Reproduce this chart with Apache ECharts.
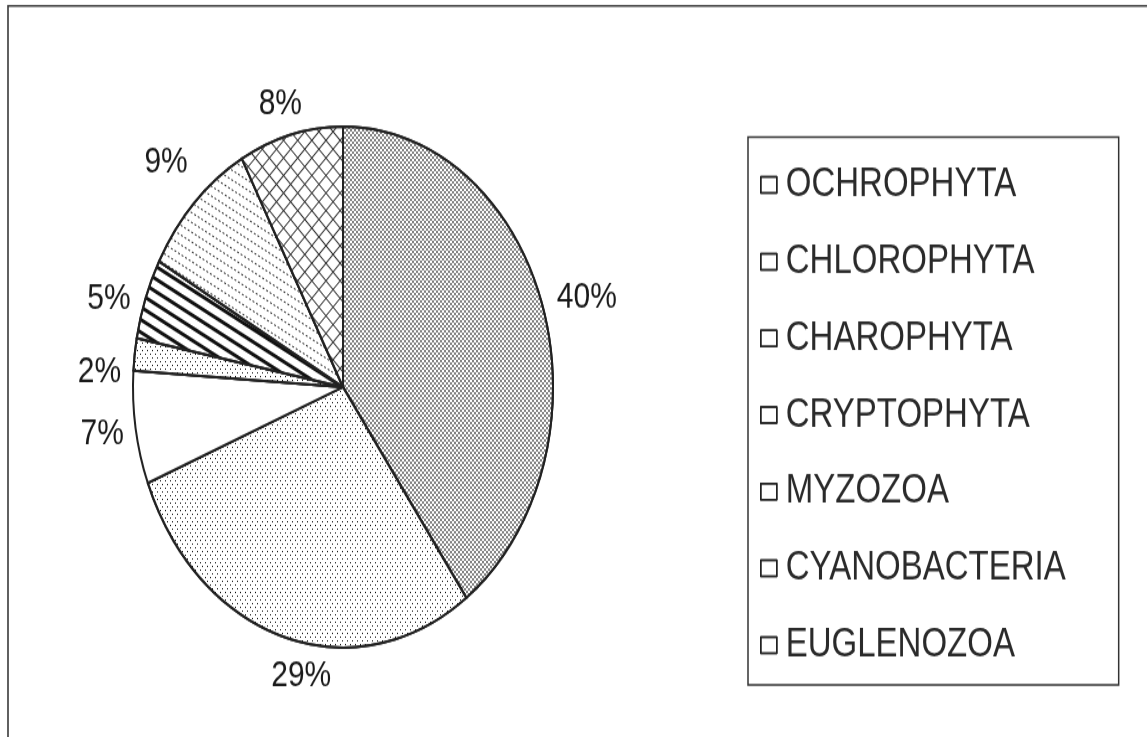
<!DOCTYPE html>
<html>
<head>
<meta charset="utf-8">
<script src="https://cdn.jsdelivr.net/npm/echarts@6/dist/echarts.min.js"></script>
<style>
html, body { margin: 0; padding: 0; background: #fff; overflow: hidden; }
#wrap { width: 1147px; height: 737px; overflow: hidden; position: relative; background: #fff; }
#main { width: 1147px; height: 594px; transform: scaleY(1.24074); transform-origin: 0 0; }
</style>
</head>
<body>
<div id="wrap"><div id="main"></div></div>
<script>
// ---- data ----
const categories = ['OCHROPHYTA', 'CHLOROPHYTA', 'CHAROPHYTA', 'CRYPTOPHYTA', 'MYZOZOA', 'CYANOBACTERIA', 'EUGLENOZOA'];
const percentages = [40, 29, 7, 2, 5, 9, 8];

// ---- styles ----
const FONT = '"Liberation Sans", Arial, sans-serif';
// small label nudges (px) imitating the original label placement
const labelNudge = [[3, 6], [26, 0], [0, 0], [-2, 18], [-3, 12], [-3, -7], [-3, 4]];
const gridRows = [[10, 0], [1, 9], [1, 9], [1, 9], [1, 9], [1, 9], [1, 9], [1, 9], [1, 9], [1, 9]];
const slicePatterns = [
  { symbol: 'rect', dashArrayX: [[2, 2], [0, 2, 2, 0]], dashArrayY: [2, 0], color: '#3c3c3c', symbolSize: 0.85, rotation: 0 },
  { symbol: 'rect', dashArrayX: [[1, 4], [0, 2, 1, 2]], dashArrayY: [1, 2], color: '#111', symbolSize: 1, rotation: 0 },
  null,
  { symbol: 'rect', dashArrayX: [[1, 4], [0, 2, 1, 2]], dashArrayY: [1, 2], color: '#111', symbolSize: 1, rotation: 0 },
  { symbol: 'rect', dashArrayX: [1, 0], dashArrayY: [3, 6], color: '#111', symbolSize: 1, rotation: 0.48 },
  { symbol: 'rect', dashArrayX: [2, 2], dashArrayY: [1, 6], color: '#333', symbolSize: 1, rotation: 0.48 },
  { symbol: 'rect', dashArrayX: gridRows, dashArrayY: [1, 0], color: '#333', symbolSize: 1, rotation: Math.PI / 4 }
];
const blankPattern = { symbol: 'rect', dashArrayX: [1, 1], dashArrayY: [1, 1], color: 'rgba(0,0,0,0)' };

const chart = echarts.init(document.getElementById('main'), null, { renderer: 'canvas' });

chart.setOption({
  animation: false,
  backgroundColor: '#fff',
  graphic: [{
    type: 'rect', silent: true, z: 0,
    shape: { x: 8, y: 4.8, width: 1400, height: 900 },
    style: { fill: 'none', stroke: '#3a3a3a', lineWidth: 1.6 }
  }],
  legend: {
    orient: 'vertical',
    left: 748,
    top: 110.4,
    padding: [22.2, 53, 15.7, 12],
    borderColor: '#333',
    borderWidth: 1.5,
    icon: 'rect',
    itemWidth: 16,
    itemHeight: 13,
    itemGap: 28.8,
    selectedMode: false,
    itemStyle: { color: '#fff', borderColor: '#222', borderWidth: 1.5, decal: blankPattern },
    textStyle: { fontFamily: FONT, fontSize: 33, color: '#2a2a2a', lineHeight: 33, padding: [0, 0, 0, 4] },
    data: categories
  },
  series: [{
    type: 'pie',
    center: [343, 311.9],
    radius: 210,
    startAngle: 90,
    clockwise: true,
    avoidLabelOverlap: false,
    emphasis: { disabled: true },
    itemStyle: { borderColor: '#222', borderWidth: 2 },
    label: {
      show: true, position: 'outside', formatter: '{c}%',
      fontFamily: FONT, fontSize: 30, color: '#1a1a1a'
    },
    labelLine: { show: true, length: 6, length2: 0, lineStyle: { opacity: 0 } },
    labelLayout: function (p) {
      const pts = p.labelLinePoints;
      if (!pts || pts.length < 2) return {};
      let ux = pts[1][0] - pts[0][0], uy = pts[1][1] - pts[0][1];
      const len = Math.sqrt(ux * ux + uy * uy) || 1;
      ux /= len; uy /= len;
      const w = p.labelRect.width, h = p.labelRect.height;
      const ext = Math.abs(ux) * w / 2 + Math.abs(uy) * h / 2 + 10;
      const n = labelNudge[p.dataIndex] || [0, 0];
      return { x: pts[0][0] + ux * ext + n[0], y: pts[0][1] + uy * ext + n[1], align: 'center', verticalAlign: 'middle' };
    },
    data: categories.map((name, i) => {
      const item = { name: name, value: percentages[i], itemStyle: { color: '#fff' } };
      if (slicePatterns[i]) item.itemStyle.decal = slicePatterns[i];
      return item;
    })
  }]
});
</script>
</body>
</html>
